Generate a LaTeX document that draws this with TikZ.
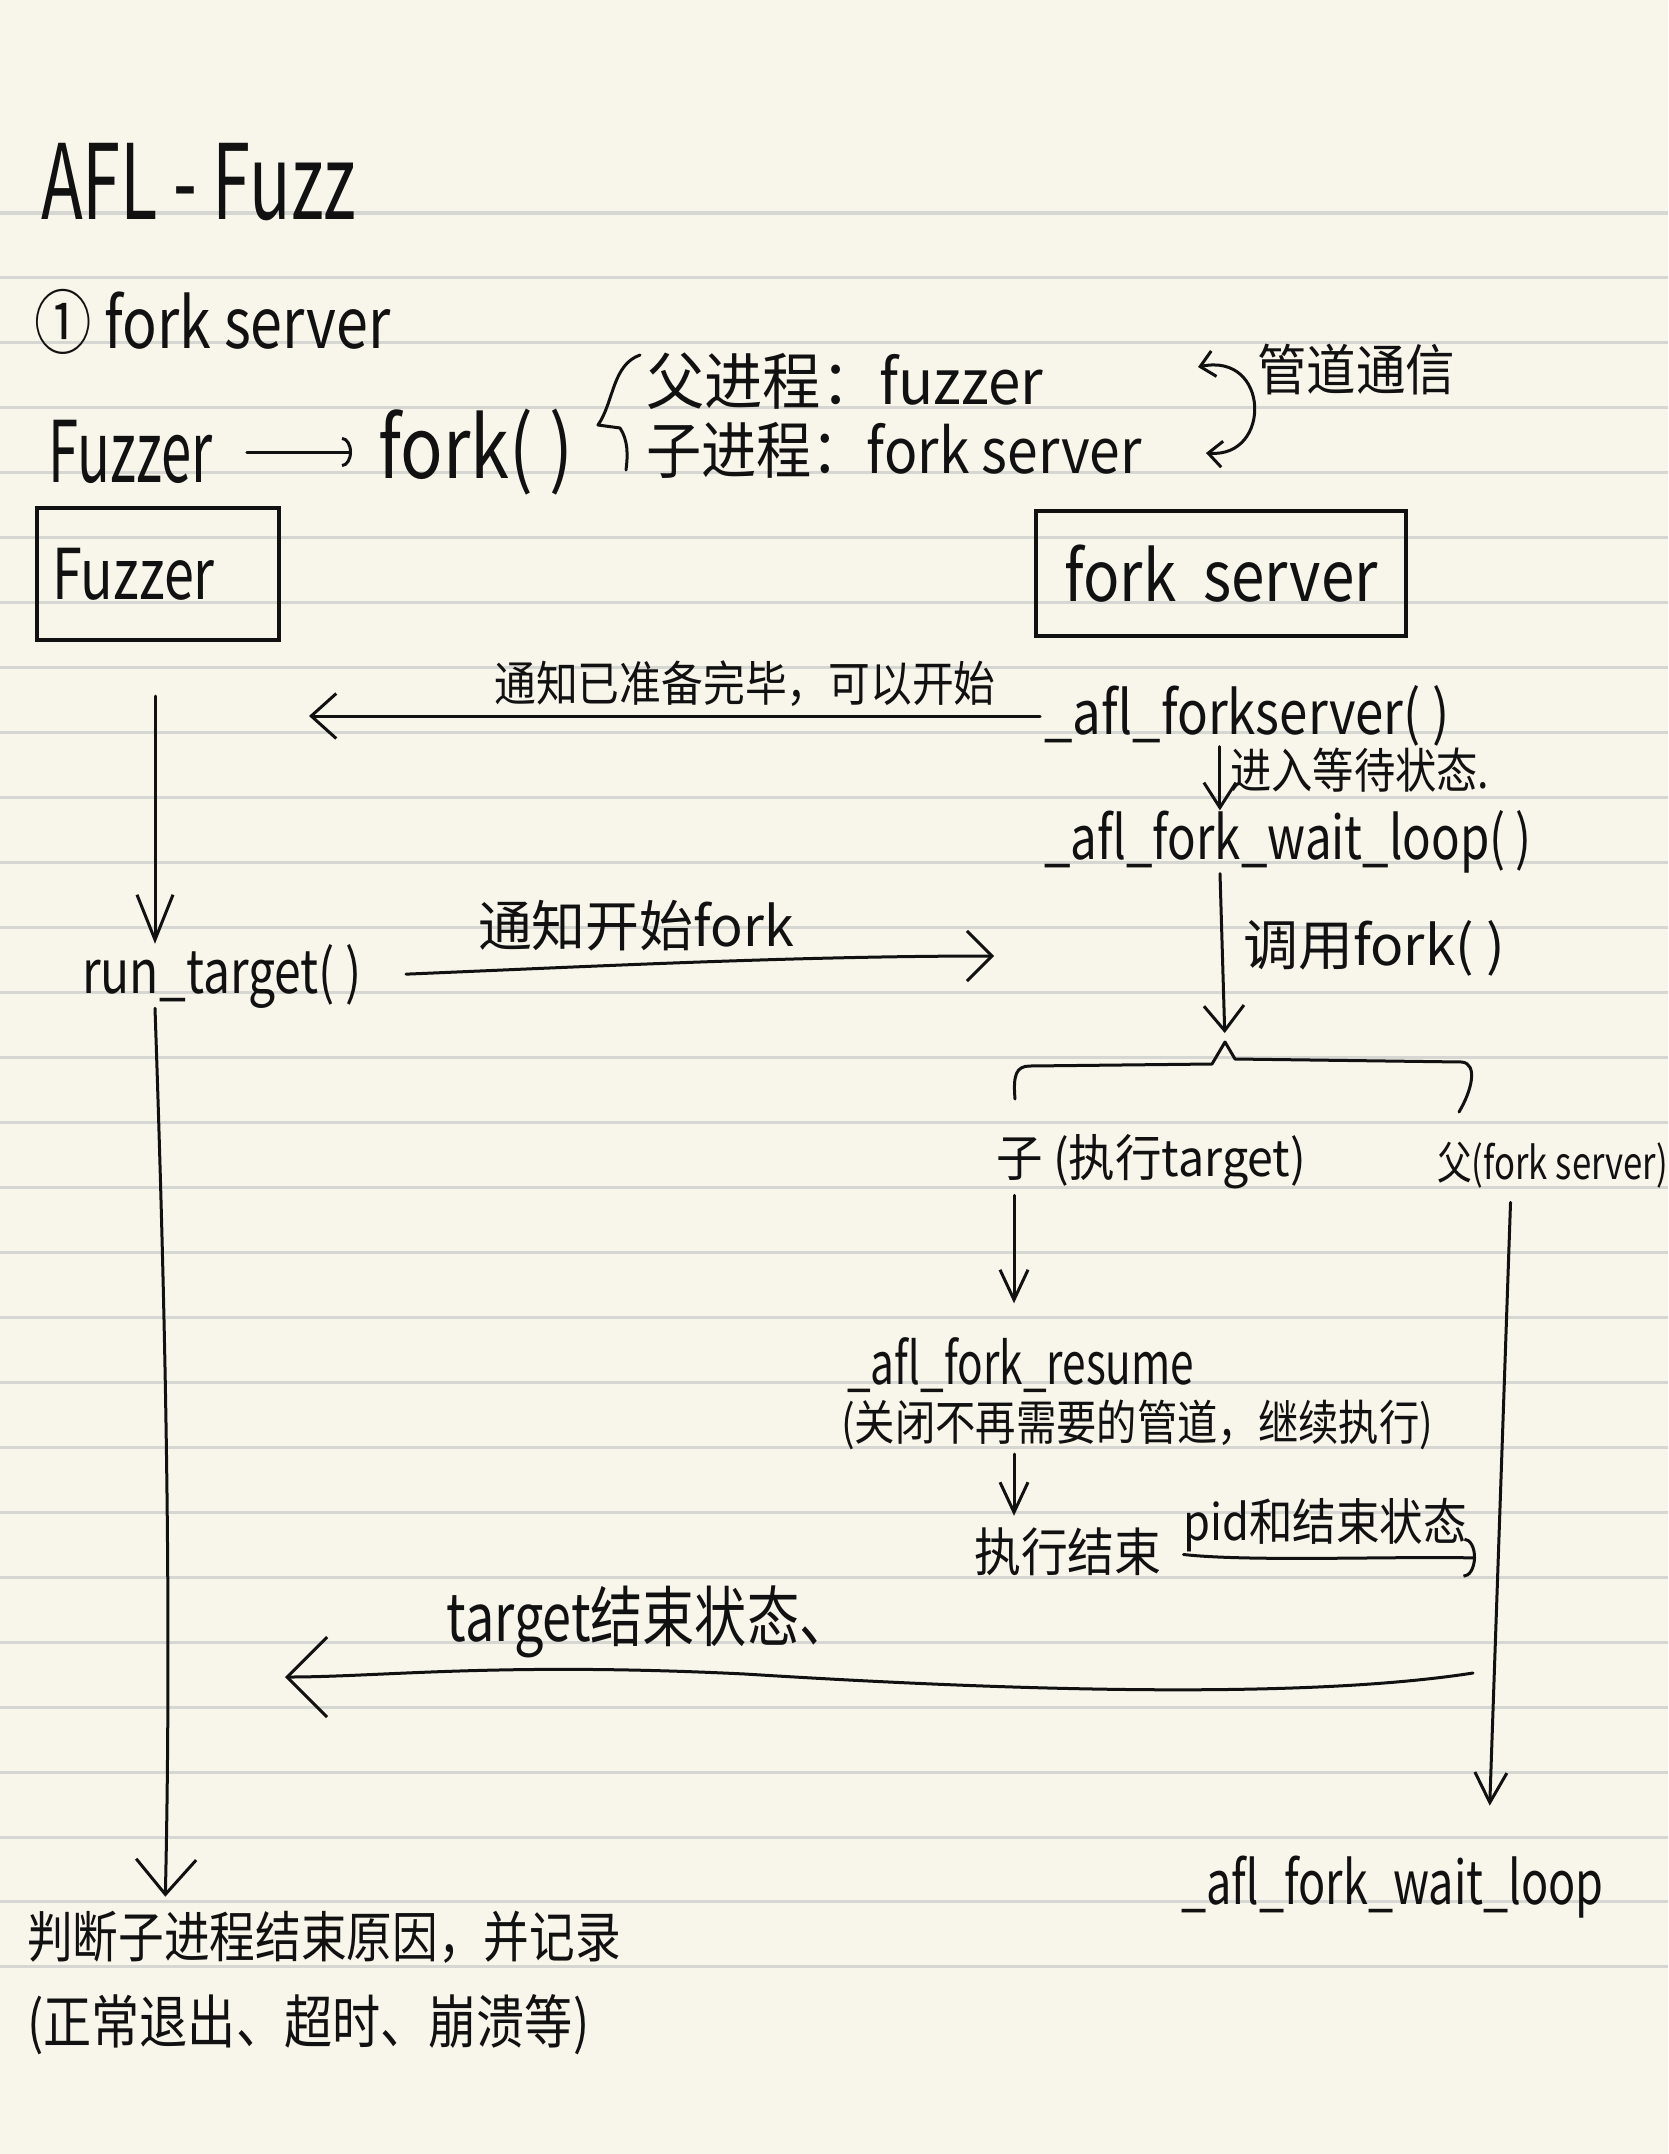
\documentclass[tikz,border=0pt]{standalone}
\usepackage{fontspec}
\setmainfont{Noto Sans CJK SC}
\usepackage{graphicx}
\usetikzlibrary{arrows.meta}
\definecolor{paper}{HTML}{F8F6EB}
\definecolor{rulec}{HTML}{D6D6D3}
\definecolor{inkc}{HTML}{111111}
\newcommand\tx[3]{{\fontsize{#1}{#1}\selectfont\scalebox{#2}[1]{#3}}}
\begin{document}
\begin{tikzpicture}[x=1pt,y=-1pt,
  ink/.style={line width=3pt, draw=inkc, line cap=round, line join=round},
  ar/.style 2 args={ink, -{Straight Barb[length=#1pt,width=#2pt]}},
  arcb/.style 2 args={ink, -{Arc Barb[length=#1pt,width=#2pt]}},
  lbl/.style={inner sep=0pt, anchor=west, text=inkc},
  ctr/.style={inner sep=0pt, text=inkc},
  box/.style={draw=inkc, line width=4pt, inner sep=0pt, text=inkc}]
\fill[paper] (0,0) rectangle (1668,2154);
\useasboundingbox (0,0) rectangle (1668,2154);
\foreach \k in {0,...,27}
  \draw[rulec, line width=3pt] (0,{213+64.96*\k}) -- (1668,{213+64.96*\k});

% heading
\node[lbl] (title) at (41,182) {\tx{104}{0.66}{AFL - Fuzz}};
\node[lbl] (sec) at (34,322) {\tx{70}{0.82}{① fork server}};

% fork line
\node[lbl] (fz0) at (48,452) {\tx{85}{0.64}{Fuzzer}};
\node[lbl] (fk0) at (378,452) {\tx{85}{0.83}{fork( )}};
\draw[arcb={10}{30}, shorten <=34pt, shorten >=26pt] (fz0.east) -- (fk0.west);
\draw[ink] (640,355) .. controls (612,365) and (614,402) .. (598,425) -- (620,428) .. controls (628,440) and (628,455) .. (626,470);
\node[lbl] (p1) at (646,381) {\tx{62}{0.94}{父进程：fuzzer}};
\node[lbl] (c1) at (646,450) {\tx{62}{0.89}{子进程：fork server}};
\coordinate (pa) at (1198,367);
\coordinate (pb) at (1206,453);
\draw[ink, {Straight Barb[length=14pt,width=26pt]}-{Straight Barb[length=14pt,width=26pt]}] (pa) .. controls (1270,352) and (1272,458) .. (pb);
\node[lbl] (pipe) at (1257,370) {\tx{55}{0.9}{管道通信}};

% boxes
\node[box, minimum width=242pt, minimum height=132pt, text width=212pt, align=left, inner xsep=15pt] (fzbox) at (158,574) {\tx{70}{0.77}{Fuzzer}};
\node[box, minimum width=370pt, minimum height=125pt] (fsbox) at (1221,573.5) {\tx{70}{0.86}{fork\ \ server}};

% fork server side
\node[lbl] (afs) at (1044,716) {\tx{60}{0.85}{\_afl\_forkserver( )}};
\coordinate (a1e) at (309,716);
\draw[ar={25}{45}, shorten <=4pt] (afs.west) -- (a1e);
\node[ctr] (l1) at (745,684) {\tx{48}{0.87}{通知已准备完毕，可以开始}};
\node[lbl] (wl) at (1044,842) {\tx{60}{0.79}{\_afl\_fork\_wait\_loop( )}};
\draw[ar={25}{32}] ([xshift=-27pt]afs.south) -- ([xshift=-27pt]afs.south |- wl.north);
\node[lbl] (l2) at (1230,770) {\tx{48}{0.86}{进入等待状态.}};

% fuzzer side
\node[lbl] (rt) at (82,976) {\tx{60}{0.8}{run\_target( )}};
\coordinate (f1) at (155,694);
\draw[ar={45}{36}, shorten <=54pt] (fzbox.south -| f1) -- (f1 |- rt.north);
\coordinate (n2e) at (994,956);
\draw[ar={25}{50}, shorten <=44pt] (rt.east) .. controls (600,966) and (800,956) .. (n2e);
\node[ctr] (l3) at (636,926) {\tx{55}{0.98}{通知开始fork}};

% call fork
\coordinate (wx) at (1220,0);
\coordinate (bpk) at (1225,1042);
\draw[ar={25}{40}, shorten >=9pt] (wl.south -| wx) -- (bpk);
\node[lbl] (l4) at (1243,948) {\tx{55}{1.0}{调用fork( )}};
\draw[ink] (1015,1099) .. controls (1013,1075) and (1016,1066) .. (1030,1066) -- (1212,1064) -- (bpk) -- (1235,1059) -- (1462,1062) .. controls (1478,1064) and (1472,1090) .. (1459,1112);

% child / parent
\node[lbl] (cn) at (996,1162) {\tx{50}{0.93}{子 (执行target)}};
\node[lbl] (pn) at (1437,1165) {\tx{45}{0.77}{父(fork server)}};
\node[lbl] (rs) at (847,1365) {\tx{58}{0.73}{\_afl\_fork\_resume}};
\node[lbl] (cl) at (841,1425) {\tx{48}{0.84}{(关闭不再需要的管道，继续执行)}};
\node[lbl] (ee) at (974,1552) {\tx{52}{0.9}{执行结束}};
\coordinate (cx) at (1014,0);
\draw[ar={30}{28}, shorten <=6pt, shorten >=34pt] (cn.south -| cx) -- (rs.north -| cx);
\draw[ar={30}{28}, shorten <=4pt, shorten >=12pt] (cl.south -| cx) -- (ee.north -| cx);
\coordinate (pe) at (1476,1558);
\draw[arcb={12}{40}, shorten <=22pt] (ee.east) .. controls (1250,1562) and (1400,1556) .. (pe);
\node[ctr] (l5) at (1325,1525) {\tx{50}{0.87}{pid和结束状态}};

\node[lbl] (wl2) at (1181,1887) {\tx{60}{0.75}{\_afl\_fork\_wait\_loop}};
\coordinate (px) at (1511,0);
\coordinate (pqx) at (1488,0);
\draw[ar={30}{32}, shorten <=14pt, shorten >=50pt] (pn.south -| px) -- (wl2.north -| pqx);

\coordinate (ts) at (1473,1673);
\coordinate (te) at (285,1677);
\draw[ar={40}{80}] (ts) .. controls (1300,1700) and (1000,1690) .. (745,1674) .. controls (500,1662) and (380,1677) .. (te);
\node[ctr] (l6) at (649,1622) {\tx{66}{0.79}{target结束状态、}};

% result
\node[lbl] (jd) at (27,1937) {\tx{55}{0.83}{判断子进程结束原因，并记录}};
\node[lbl] (jd2) at (27,2025) {\tx{58}{0.83}{(正常退出、超时、崩溃等)}};
\coordinate (f2) at (165,0);
\draw[ar={35}{60}, shorten >=14pt] (rt.south -| f1) .. controls (165,1300) and (172,1600) .. (f2 |- jd.north);
\end{tikzpicture}
\end{document}
